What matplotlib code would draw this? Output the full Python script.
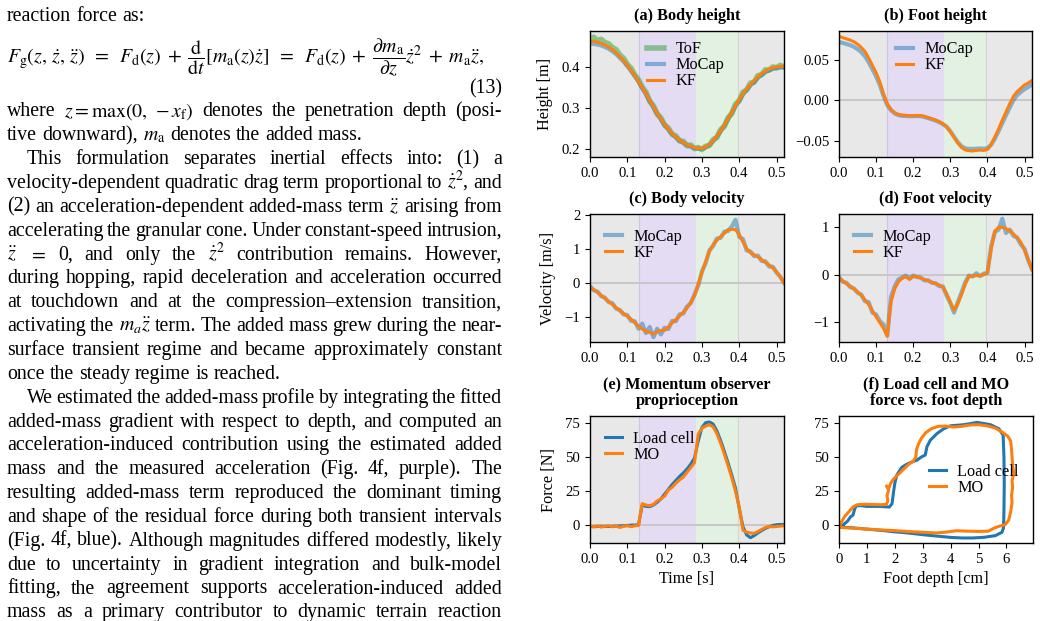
import matplotlib.pyplot as plt
import numpy as np

plt.rcParams['font.family'] = 'serif'
plt.rcParams['font.serif'] = ['Liberation Serif', 'DejaVu Serif']
plt.rcParams['mathtext.fontset'] = 'stix'
plt.rcParams['axes.linewidth'] = 1.0
plt.rcParams['xtick.labelsize'] = 10.6
plt.rcParams['ytick.labelsize'] = 10.6

W, H = 1040, 621

# ---------------- data ----------------
TIME = [0.00, 0.01, 0.02, 0.03, 0.04, 0.05, 0.06, 0.07, 0.08, 0.09,
        0.10, 0.11, 0.12, 0.13, 0.14, 0.15, 0.16, 0.17, 0.18, 0.19,
        0.20, 0.21, 0.22, 0.23, 0.24, 0.25, 0.26, 0.27, 0.28, 0.29,
        0.30, 0.31, 0.32, 0.33, 0.34, 0.35, 0.36, 0.37, 0.38, 0.39,
        0.40, 0.41, 0.42, 0.43, 0.44, 0.45, 0.46, 0.47, 0.48, 0.49,
        0.50, 0.51, 0.52]
PHASES = [0.13, 0.283, 0.397]

body_h_tof = [.468, .471, .463, .466, .458, .455, .446, .441, .428, .420, .405, .396, .380, .368,
              .350, .338, .316, .305, .285, .276, .258, .251, .236, .232, .220, .219, .208, .210,
              .201, .204, .199, .207, .209, .223, .228, .247, .255, .276, .286, .309, .317, .338,
              .343, .360, .362, .378, .380, .392, .391, .399, .397, .403, .399]
body_h_mocap = [.455, .455, .453, .451, .447, .443, .437, .430, .421, .412, .401, .389, .377, .363,
                .348, .333, .317, .301, .286, .272, .259, .247, .237, .228, .221, .215, .210, .206,
                .203, .201, .201, .204, .210, .219, .230, .243, .257, .272, .288, .304, .318, .332,
                .344, .354, .363, .372, .380, .386, .391, .394, .396, .397, .398]
body_h_kf = [.462, .461, .459, .456, .452, .447, .441, .433, .424, .414, .403, .391, .378, .364,
             .349, .334, .318, .302, .287, .273, .260, .248, .238, .229, .222, .216, .211, .207,
             .204, .202, .202, .205, .211, .220, .231, .244, .258, .273, .289, .305, .320, .334,
             .346, .356, .366, .375, .383, .389, .394, .397, .399, .400, .401]

foot_h_mocap = [.0716, .0705, .0692, .0678, .0658, .0630, .0592, .0542, .0468, .0385, .0295, .0190,
                .0055, -.0055, -.0118, -.0158, -.0178, -.0188, -.0190, -.0192, -.0192, -.0190,
                -.0192, -.0202, -.0215, -.0230, -.0245, -.0265, -.0290, -.0322, -.0378, -.0445,
                -.0510, -.0560, -.0585, -.0592, -.0593, -.0590, -.0588, -.0590, -.0585, -.0540,
                -.0465, -.0375, -.0275, -.0180, -.0085, .0005, .0065, .0105, .0140, .0165, .0195]
foot_h_kf = [.0786, .0770, .0755, .0740, .0720, .0690, .0650, .0600, .0520, .0430, .0340, .0230,
             .0080, -.0040, -.0110, -.0150, -.0170, -.0180, -.0182, -.0185, -.0185, -.0183,
             -.0185, -.0195, -.0210, -.0225, -.0240, -.0260, -.0285, -.0320, -.0380, -.0450,
             -.0520, -.0575, -.0605, -.0615, -.0618, -.0612, -.0608, -.0612, -.0600, -.0540,
             -.0450, -.0350, -.0240, -.0140, -.0040, .0050, .0110, .0150, .0190, .0215, .0245]

body_v_mocap = [-.10, -.22, -.26, -.39, -.44, -.57, -.60, -.76, -.80, -.93, -.95, -1.12, -1.13,
                -1.35, -1.20, -1.48, -1.30, -1.60, -1.35, -1.52, -1.32, -1.36, -1.12, -1.13, -.93,
                -.90, -.70, -.60, -.35, -.08, .33, .58, .95, 1.08, 1.30, 1.32, 1.50, 1.52, 1.65,
                1.85, 1.35, 1.28, .95, .92, .78, .80, .64, .63, .48, .47, .30, .18, .00]
body_v_kf = [-.12, -.20, -.28, -.37, -.46, -.55, -.64, -.73, -.82, -.90, -.98, -1.07, -1.17,
             -1.28, -1.36, -1.42, -1.46, -1.50, -1.44, -1.40, -1.40, -1.30, -1.18, -1.08, -.98,
             -.87, -.74, -.58, -.38, -.05, .30, .62, .92, 1.12, 1.25, 1.35, 1.45, 1.56, 1.57,
             1.56, 1.42, 1.20, 1.00, .88, .82, .76, .68, .60, .52, .44, .32, .17, .00]

foot_v_mocap = [-.05, -.15, -.17, -.26, -.29, -.38, -.42, -.56, -.58, -.80, -.84, -.98, -1.05,
                -1.28, -.48, -.25, -.10, -.06, -.02, -.08, -.02, -.05, -.06, -.12, -.12, -.17,
                -.18, -.24, -.25, -.44, -.60, -.80, -.58, -.38, -.16, -.02, -.04, .03, -.03, .02,
                .04, .60, .90, .95, 1.18, .88, .95, .82, .78, .64, .54, .30, .12]
foot_v_kf = [-.07, -.13, -.19, -.24, -.30, -.36, -.44, -.53, -.63, -.76, -.89, -1.01, -1.13,
             -1.30, -.58, -.30, -.15, -.08, -.04, -.10, -.04, -.04, -.07, -.10, -.13, -.16, -.19,
             -.22, -.26, -.40, -.58, -.75, -.62, -.42, -.20, -.04, -.03, -.02, -.02, .00, .05,
             .55, .92, 1.00, 1.00, .97, .93, .86, .78, .68, .52, .32, .10]

force_loadcell = [-.8, -.9, -.8, -.6, -.7, -.8, -.6, -.5, -.4, -.2, 0.0, .2, .3, .5,
                  15.0, 14.0, 13.8, 15.0, 17.0, 19.5, 23.0, 26.5, 30.0, 33.0, 36.0, 38.5, 41.5,
                  45.0, 49.5, 62.0, 72.0, 75.5, 76.0, 74.5, 69.5, 62.5, 54.5, 46.0, 37.0, 27.5,
                  12.5, -1.0, -7.0, -9.0, -7.5, -5.5, -3.8, -2.2, -1.0, 0.0, .5, .7, .7]
force_mo = [-.5, -1.0, -.3, -1.2, -.6, -.2, -1.0, -.4, -1.5, -.6, -.2, -.9, -.3, 0.0,
            16.0, 15.0, 14.5, 15.5, 18.0, 19.5, 21.5, 26.0, 28.0, 31.0, 33.5, 35.5, 39.0, 42.5,
            46.0, 67.0, 71.5, 73.0, 74.0, 72.5, 67.5, 60.5, 52.5, 44.0, 35.0, 25.0, 13.5, -3.5,
            -5.0, -5.5, -5.8, -4.5, -3.0, -1.5, -.8, -1.0, -.8, -.5, -.2]

lc_depth = [0.00, 0.15, 0.30, 0.42, 0.50, 0.56, 0.62, 0.80, 1.00, 1.20, 1.40, 1.60, 1.80, 1.90,
            1.95, 2.00, 2.07, 2.25, 2.43, 2.60, 2.79, 2.97, 3.09, 3.15, 3.27, 3.51, 3.75, 3.99,
            4.47, 4.95, 5.43, 5.73, 5.88, 5.91, 5.92, 5.91, 5.90, 5.89, 5.84, 5.60, 5.20, 4.80,
            4.40, 4.00, 3.50, 3.00, 2.50, 2.00, 1.50, 1.00, 0.50, 0.00]
lc_force = [-1.0, 0.5, 3.0, 6.5, 7.5, 12.0, 14.5, 14.5, 14.0, 14.0, 14.0, 13.8, 13.5, 16.0,
            24.0, 31.0, 37.0, 42.7, 45.0, 46.5, 48.0, 50.5, 51.7, 57.8, 62.6, 67.5, 71.0, 73.2,
            74.0, 75.7, 74.0, 71.0, 66.3, 50.0, 30.0, 12.0, 2.0, -2.0, -5.0, -7.5, -8.7, -9.2,
            -9.2, -8.8, -7.8, -6.8, -5.6, -4.7, -3.6, -2.7, -1.8, -1.0]
mo_depth = [0.00, 0.10, 0.20, 0.35, 0.50, 0.65, 0.90, 1.20, 1.50, 1.70, 1.75, 1.72, 1.78, 1.70,
            1.80, 1.85, 1.95, 2.10, 2.30, 2.50, 2.65, 2.75, 2.78, 2.85, 2.95, 3.10, 3.30, 3.55,
            3.80, 4.10, 4.40, 4.70, 5.00, 5.30, 5.60, 5.85, 6.05, 6.15, 6.18, 6.20, 6.22, 6.26,
            6.20, 6.22, 6.18, 6.20, 6.15, 6.08, 5.95, 5.75, 5.55, 5.35, 5.00, 4.60, 4.20, 3.80,
            3.50, 3.00, 2.50, 2.00, 1.50, 1.00, 0.50, 0.00]
mo_force = [-1.5, 3.0, 6.5, 10.0, 13.5, 15.2, 15.6, 15.4, 15.2, 15.5, 18.0, 22.0, 26.0, 29.0,
            28.0, 31.0, 34.0, 37.0, 41.0, 45.0, 47.0, 50.0, 56.0, 60.0, 64.0, 68.0, 71.0, 72.8,
            73.0, 72.3, 72.8, 73.8, 74.0, 73.2, 71.5, 68.5, 65.5, 62.0, 56.0, 50.0, 44.0, 38.0,
            33.0, 28.0, 22.0, 17.0, 10.0, 4.0, 0.5, -0.5, -2.0, -4.2, -4.4, -4.2, -3.9, -5.0,
            -5.5, -5.0, -4.5, -3.8, -3.3, -2.7, -2.0, -1.5]

# ---------------- paper text ----------------
EQUATION = (r'$F_\mathrm{g}(z,\,\dot{z},\,\ddot{z})\;\;=\;\;F_\mathrm{d}(z)\;+\;\dfrac{\mathrm{d}}{\mathrm{d}t}'
            r'[m_\mathrm{a}(z)\dot{z}]\;\;=\;\;F_\mathrm{d}(z)\;+\;\dfrac{\partial m_\mathrm{a}}{\partial z}'
            r'\dot{z}^2\;+\;m_\mathrm{a}\ddot{z},$')
# (text, justified, indented)
BODY = [
    (r'where $z=\max(0,\,-x_\mathrm{f})$ denotes the penetration depth (posi-', True, False),
    (r'tive downward), $m_\mathrm{a}$ denotes the added mass.', False, False),
    (r'This formulation separates inertial effects into: (1) a', True, True),
    (r'velocity-dependent quadratic drag term proportional to $\dot{z}^2$, and', True, False),
    (r'(2) an acceleration-dependent added-mass term $\ddot{z}$ arising from', True, False),
    (r'accelerating the granular cone. Under constant-speed intrusion,', True, False),
    (r'$\ddot{z}$ $=$ 0, and only the $\dot{z}^2$ contribution remains. However,', True, False),
    (r'during hopping, rapid deceleration and acceleration occurred', True, False),
    (r'at touchdown and at the compression–extension transition,', True, False),
    (r'activating the $m_a\ddot{z}$ term. The added mass grew during the near-', True, False),
    (r'surface transient regime and became approximately constant', True, False),
    (r'once the steady regime is reached.', False, False),
    (r'We estimated the added-mass profile by integrating the fitted', True, True),
    (r'added-mass gradient with respect to depth, and computed an', True, False),
    (r'acceleration-induced contribution using the estimated added', True, False),
    (r'mass and the measured acceleration (Fig. 4f, purple). The', True, False),
    (r'resulting added-mass term reproduced the dominant timing', True, False),
    (r'and shape of the residual force during both transient intervals', True, False),
    (r'(Fig. 4f, blue). Although magnitudes differed modestly, likely', True, False),
    (r'due to uncertainty in gradient integration and bulk-model', True, False),
    (r'fitting, the agreement supports acceleration-induced added', True, False),
    (r'mass as a primary contributor to dynamic terrain reaction', True, False),
]

BLUE, ORANGE, GREEN = '#1f77b4', '#ff7f0e', '#2ca02c'
BG_GRAY, BG_PURPLE, BG_GREEN = '#e8e8e8', '#e4dcf3', '#e3f1e3'

fig = plt.figure(figsize=(W / 100, H / 100), dpi=100)
renderer = fig.canvas.get_renderer()

TXT = 14.3
COL_L, COL_R = 7, 502


def text_line(s, y, justify, indent):
    x0 = COL_L + (20 if indent else 0)
    toks = s.split(' ')
    objs = [fig.text(0, 1 - y / H, tk, fontsize=TXT, va='baseline', ha='left') for tk in toks]
    widths = [o.get_window_extent(renderer).width for o in objs]
    if justify and len(toks) > 1:
        gap = (COL_R - x0 - sum(widths)) / (len(toks) - 1)
    else:
        gap = 0.25 * TXT * 100 / 72
    x = x0
    for o, w in zip(objs, widths):
        o.set_x(x / W)
        x += w + gap


text_line('reaction force as:', 21, False, False)
eq = fig.text(COL_L / W, 1 - 63 / H, EQUATION, fontsize=TXT, va='baseline', ha='left')
eq_w = eq.get_window_extent(renderer).width
eq.set_fontsize(float(np.clip(TXT * (COL_R - 2 - COL_L) / eq_w, 0.92 * TXT, 1.0 * TXT)))
fig.text(COL_R / W, 1 - 93 / H, '(13)', fontsize=TXT, va='baseline', ha='right')
for i, (s, just, ind) in enumerate(BODY):
    text_line(s, 116.5 + i * 23.85, just, ind)


# ---------------- plots ----------------
def px_axes(l, t, r, b):
    return fig.add_axes([l / W, 1 - b / H, (r - l) / W, (b - t) / H])


def time_axes(ax, zero=True):
    ax.set_facecolor(BG_GRAY)
    ax.axvspan(PHASES[0], PHASES[1], color=BG_PURPLE, lw=0, zorder=0)
    ax.axvspan(PHASES[1], PHASES[2], color=BG_GREEN, lw=0, zorder=0)
    ax.axvline(PHASES[0], color='#cdc4e6', lw=0.8, zorder=0.5)
    ax.axvline(PHASES[2], color='#d0d6d0', lw=0.8, zorder=0.5)
    if zero:
        ax.axhline(0, color='#c8c8c8', lw=1.5, zorder=0.6)
    ax.set_xlim(0, 0.52)
    ax.set_xticks([0.0, 0.1, 0.2, 0.3, 0.4, 0.5])
    ax.tick_params(direction='out', length=3.5, width=0.8)


LEG = dict(frameon=False, fontsize=11.7, handlelength=1.05, handletextpad=0.7,
           labelspacing=0.0)
TITLE = dict(fontsize=11.7, fontweight='bold', pad=8)
LAB = dict(fontsize=11.7, labelpad=6)

ax_a = px_axes(590, 31, 784, 157)
ax_b = px_axes(839, 31, 1032, 157)
ax_c = px_axes(590, 214, 784, 342)
ax_d = px_axes(839, 214, 1032, 342)
ax_e = px_axes(590, 416, 784, 543)
ax_f = px_axes(839, 416, 1033, 543)

# (a)
time_axes(ax_a, zero=False)
ax_a.plot(TIME, body_h_tof, color=GREEN, lw=4, alpha=0.5, label='ToF')
ax_a.plot(TIME, body_h_mocap, color=BLUE, lw=3, alpha=0.5, label='MoCap')
ax_a.plot(TIME, body_h_kf, color=ORANGE, lw=2.2, label='KF')
ax_a.set_ylim(0.181, 0.486)
ax_a.set_yticks([0.2, 0.3, 0.4])
ax_a.set_ylabel('Height [m]', **LAB)
ax_a.set_title('(a) Body height', **TITLE)
ax_a.legend(loc='upper left', bbox_to_anchor=(0.26, 0.97), borderaxespad=0, **LEG)

# (b)
time_axes(ax_b)
ax_b.plot(TIME, foot_h_mocap, color=BLUE, lw=3, alpha=0.5, label='MoCap')
ax_b.plot(TIME, foot_h_kf, color=ORANGE, lw=2.2, label='KF')
ax_b.set_ylim(-0.0692, 0.0851)
ax_b.set_yticks([-0.05, 0.0, 0.05])
ax_b.set_title('(b) Foot height', **TITLE)
ax_b.legend(loc='upper left', bbox_to_anchor=(0.26, 0.97), borderaxespad=0, **LEG)

# (c)
time_axes(ax_c)
ax_c.plot(TIME, body_v_mocap, color=BLUE, lw=3, alpha=0.5, label='MoCap')
ax_c.plot(TIME, body_v_kf, color=ORANGE, lw=2.2, label='KF')
ax_c.set_ylim(-1.74, 2.02)
ax_c.set_yticks([-1, 0, 1, 2])
ax_c.set_ylabel('Velocity [m/s]', **LAB)
ax_c.set_title('(c) Body velocity', **TITLE)
ax_c.legend(loc='upper left', **LEG)

# (d)
time_axes(ax_d)
ax_d.plot(TIME, foot_v_mocap, color=BLUE, lw=3, alpha=0.5, label='MoCap')
ax_d.plot(TIME, foot_v_kf, color=ORANGE, lw=2.2, label='KF')
ax_d.set_ylim(-1.42, 1.28)
ax_d.set_yticks([-1, 0, 1])
ax_d.set_title('(d) Foot velocity', **TITLE)
ax_d.legend(loc='upper left', **LEG)

# (e)
time_axes(ax_e)
ax_e.plot(TIME, force_loadcell, color=BLUE, lw=2.2, label='Load cell')
ax_e.plot(TIME, force_mo, color=ORANGE, lw=2.2, label='MO')
ax_e.set_ylim(-12.9, 80.4)
ax_e.set_yticks([0, 25, 50, 75])
ax_e.set_ylabel('Force [N]', **LAB)
ax_e.set_xlabel('Time [s]', fontsize=11.7)
ax_e.set_title('(e) Momentum observer\nproprioception', linespacing=1.0, **TITLE)
ax_e.legend(loc='upper left', **LEG)

# (f)
ax_f.plot(lc_depth, lc_force, color=BLUE, lw=2.2, label='Load cell')
ax_f.plot(mo_depth, mo_force, color=ORANGE, lw=2.2, label='MO')
ax_f.set_xlim(0, 6.95)
ax_f.set_ylim(-12.9, 80.4)
ax_f.set_xticks([0, 1, 2, 3, 4, 5, 6])
ax_f.set_yticks([0, 25, 50, 75])
ax_f.tick_params(direction='out', length=3.5, width=0.8)
ax_f.set_xlabel('Foot depth [cm]', fontsize=11.7)
ax_f.set_title('(f) Load cell and MO\nforce vs. foot depth', linespacing=1.0, **TITLE)
ax_f.legend(loc='center left', bbox_to_anchor=(0.43, 0.50), borderaxespad=0, **LEG)

fig.savefig('out.png', dpi=100)
